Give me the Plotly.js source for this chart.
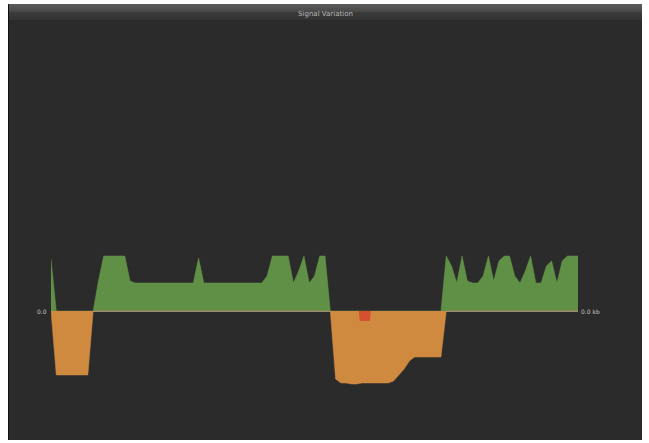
<!DOCTYPE html>
<html>
<head>
<meta charset="utf-8">
<script src="https://cdn.plot.ly/plotly-3.0.1.min.js"></script>
<style>
  html, body { margin: 0; padding: 0; background: #ffffff; width: 649px; height: 443px; overflow: hidden; }
  #frame { position: absolute; left: 8px; top: 4px; width: 633px; height: 436px; background: #2b2b2b; border-left: 1px solid #111; }
  #bar { position: absolute; left: 0; top: 0; width: 633px; height: 16px;
         background: linear-gradient(#5c5c5c, #4a4a4a 45%, #3a3a3a 55%, #333333); }
  #chart { position: absolute; left: 0; top: 0; width: 633px; height: 436px; }
</style>
</head>
<body>
<div id="frame"><div id="bar"></div><div id="chart"></div></div>
<script>
// Sample index along the time axis
const samples = Array.from({length: 101}, (_, i) => i);

// Positive (green) values
const upValues = [
  52, 0, 0, 0, 0, 0, 0, 0, 0, 30,
  55, 55, 55, 55, 55, 30, 28, 28, 28, 28,
  28, 28, 28, 28, 28, 28, 28, 28, 53, 28,
  28, 28, 28, 28, 28, 28, 28, 28, 28, 28,
  28, 35, 55, 55, 55, 55, 28, 40, 55, 28,
  35, 55, 55, 0, 0, 0, 0, 0, 0, 0,
  0, 0, 0, 0, 0, 0, 0, 0, 0, 0,
  0, 0, 0, 0, 0, 55, 45, 28, 55, 30,
  28, 28, 35, 55, 30, 50, 55, 55, 35, 28,
  40, 55, 28, 28, 45, 50, 28, 50, 55, 55,
  55
];

// Negative (orange) values
const downValues = [
  0, -64, -64, -64, -64, -64, -64, -64, 0, 0,
  0, 0, 0, 0, 0, 0, 0, 0, 0, 0,
  0, 0, 0, 0, 0, 0, 0, 0, 0, 0,
  0, 0, 0, 0, 0, 0, 0, 0, 0, 0,
  0, 0, 0, 0, 0, 0, 0, 0, 0, 0,
  0, 0, 0, 0, -68, -72, -72, -73, -73, -72,
  -72, -72, -72, -72, -72, -70, -64, -58, -50, -46,
  -46, -46, -46, -46, -46, 0, 0, 0, 0, 0,
  0, 0, 0, 0, 0, 0, 0, 0, 0, 0,
  0, 0, 0, 0, 0, 0, 0, 0, 0, 0,
  0
];

// Red marker region
const alertX = [58.4, 58.6, 60.5, 60.7];
const alertValues = [0, -10, -10, 0];

const zeroLeftLabel = "0.0";
const zeroRightLabel = "0.0 kb";
const chartTitle = "Signal Variation";

const traces = [
  { x: samples, y: upValues, type: 'scatter', mode: 'lines', fill: 'tozeroy',
    line: { width: 0.5, color: '#66964a' }, fillcolor: '#5f9046', hoverinfo: 'skip' },
  { x: samples, y: downValues, type: 'scatter', mode: 'lines', fill: 'tozeroy',
    line: { width: 0.5, color: '#d08c44' }, fillcolor: '#d08a40', hoverinfo: 'skip' },
  { x: alertX, y: alertValues, type: 'scatter', mode: 'lines', fill: 'tozeroy',
    line: { width: 0, color: '#d9512f' }, fillcolor: '#d4502e', hoverinfo: 'skip' }
];

const layout = {
  width: 633, height: 436,
  margin: { l: 42, r: 64, t: 17, b: 0, pad: 0 },
  paper_bgcolor: 'rgba(0,0,0,0)',
  plot_bgcolor: 'rgba(0,0,0,0)',
  showlegend: false,
  title: { text: chartTitle, x: 0.5, xanchor: 'center', y: 1, yref: 'paper', yanchor: 'bottom',
           pad: { b: 5 }, font: { family: 'DejaVu Sans', size: 7, color: '#b8b8b8' } },
  xaxis: { range: [0, 100], showgrid: false, zeroline: false, showticklabels: false, ticks: '', showline: false, fixedrange: true },
  yaxis: { range: [-129, 290], showgrid: false, zeroline: true, zerolinecolor: '#8a8a8a', zerolinewidth: 1,
           showticklabels: false, ticks: '', showline: false, fixedrange: true },
  annotations: [
    { xref: 'paper', yref: 'y', x: 0, y: 0, xanchor: 'right', yanchor: 'middle', showarrow: false,
      text: zeroLeftLabel, xshift: -2, font: { family: 'DejaVu Sans', size: 6, color: '#c8c8c8' } },
    { xref: 'paper', yref: 'y', x: 1, y: 0, xanchor: 'left', yanchor: 'middle', showarrow: false,
      text: zeroRightLabel, xshift: 1, font: { family: 'DejaVu Sans', size: 6, color: '#c8c8c8' } }
  ]
};

Plotly.newPlot('chart', traces, layout, { displayModeBar: false, staticPlot: true });
</script>
</body>
</html>
